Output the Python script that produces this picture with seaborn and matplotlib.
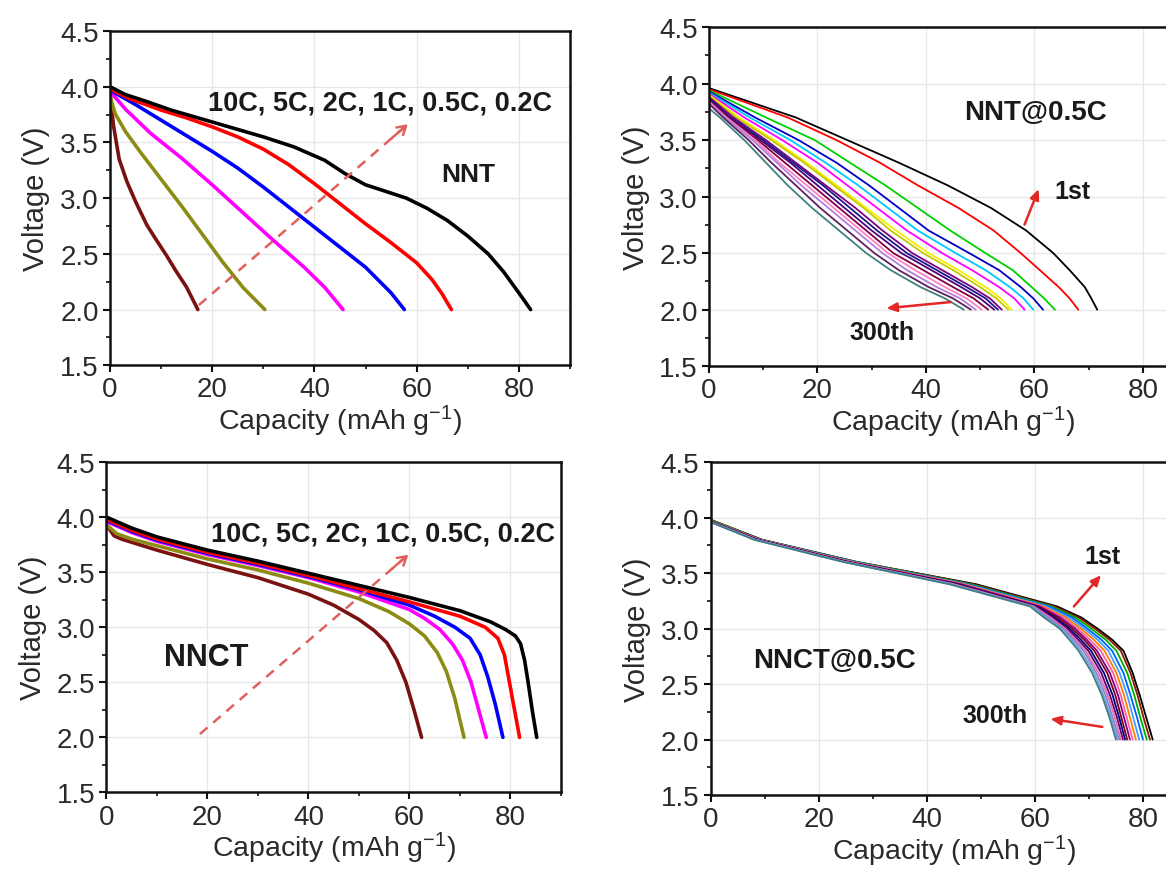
import matplotlib
matplotlib.use("Agg")
import matplotlib.pyplot as plt
from matplotlib.ticker import MultipleLocator, FormatStrFormatter
import pandas as pd
import seaborn as sns

# ---------------- rate-capability discharge curves ----------------
RATES = ["10C", "5C", "2C", "1C", "0.5C", "0.2C"]
RATE_COLORS = ["#7a1212", "#8c8c14", "#ff00ff", "#0000ff", "#ff0000", "#000000"]

NNT_CAP = [
    [0, 0.7, 1.8, 3.3, 5, 7.2, 9, 11, 13, 15, 17.2],
    [0, 1, 3, 6, 10, 14, 18, 22, 26, 30.3],
    [0, 3, 8, 14, 20, 26, 32, 38, 42, 45.6],
    [0, 5, 10, 15, 20, 25, 30, 35, 40, 45, 50, 55, 57.6],
    [0, 4, 10, 15, 20, 25, 30, 35, 40, 45, 50, 55, 60, 63, 65, 66.8],
    [0, 3, 7, 12, 18, 24, 30, 36, 42, 46, 50, 54, 58, 62, 66, 70, 74, 77, 80, 82.3],
]
NNT_V = [
    [3.95, 3.65, 3.35, 3.15, 2.97, 2.76, 2.63, 2.49, 2.34, 2.2, 2.0],
    [3.92, 3.76, 3.6, 3.41, 3.17, 2.93, 2.68, 2.43, 2.2, 2.0],
    [3.96, 3.8, 3.58, 3.36, 3.12, 2.87, 2.62, 2.38, 2.2, 2.0],
    [3.97, 3.84, 3.7, 3.56, 3.42, 3.27, 3.1, 2.92, 2.74, 2.56, 2.38, 2.15, 2.0],
    [3.98, 3.89, 3.79, 3.72, 3.64, 3.55, 3.44, 3.3, 3.13, 2.95, 2.77, 2.6, 2.42, 2.27, 2.14, 2.0],
    [4.0, 3.93, 3.87, 3.79, 3.71, 3.63, 3.55, 3.46, 3.34, 3.22, 3.12, 3.06, 3.0, 2.91, 2.8,
     2.66, 2.5, 2.34, 2.15, 2.0],
]

NNCT_CAP = [
    [0, 1.5, 3, 10, 20, 30, 40, 45, 50, 53, 55.5, 57.5, 59.3, 60.9, 62.4],
    [0, 2, 5, 10, 20, 30, 40, 50, 56, 60, 63, 65.5, 67.3, 69, 70.8],
    [0, 5, 10, 20, 30, 40, 50, 60, 63, 66, 68.5, 70.5, 72.2, 73.7, 75.2],
    [0, 5, 10, 20, 30, 40, 50, 60, 65, 69, 72, 74, 75.5, 77, 78.5],
    [0, 5, 10, 20, 30, 40, 50, 60, 70, 75, 77.5, 78.8, 79.8, 80.8, 81.8],
    [0, 5, 10, 20, 30, 40, 50, 60, 70, 76, 79, 81, 82, 82.8, 83.5, 84.3, 85.2],
]
NNCT_V = [
    [3.93, 3.83, 3.8, 3.7, 3.57, 3.45, 3.3, 3.2, 3.07, 2.97, 2.86, 2.7, 2.5, 2.25, 2.0],
    [3.93, 3.85, 3.8, 3.74, 3.62, 3.52, 3.4, 3.26, 3.14, 3.03, 2.92, 2.77, 2.6, 2.35, 2.0],
    [3.96, 3.86, 3.78, 3.66, 3.56, 3.45, 3.32, 3.16, 3.08, 2.98, 2.85, 2.7, 2.5, 2.25, 2.0],
    [3.97, 3.87, 3.79, 3.67, 3.57, 3.46, 3.34, 3.2, 3.1, 3.0, 2.9, 2.75, 2.55, 2.3, 2.0],
    [3.98, 3.88, 3.8, 3.68, 3.58, 3.47, 3.35, 3.23, 3.1, 3.0, 2.9, 2.75, 2.5, 2.25, 2.0],
    [4.0, 3.9, 3.82, 3.7, 3.6, 3.49, 3.38, 3.27, 3.15, 3.05, 2.98, 2.92, 2.85, 2.7, 2.5,
     2.25, 2.0],
]

# ---------------- cycling at 0.5C (1st ... 300th) ----------------
# capacity reached by each cycle when the voltage falls to the given level
NNT_CYC_LEVELS = [3.7, 3.5, 3.3, 3.1, 2.9, 2.7, 2.5, 2.35, 2.2, 2.1, 2.0]
NNT_CYC_START = [3.96, 3.95, 3.94, 3.93, 3.92, 3.91, 3.90, 3.89, 3.88, 3.87,
                 3.86, 3.85, 3.84, 3.83, 3.82, 3.78]
NNT_CYC_CAP = [
    [16, 25.5, 35, 44, 52, 58.5, 63.5, 66.5, 69.3, 70.5, 71.6],
    [14.5, 23.5, 31.5, 38.5, 46, 52.5, 57.5, 61, 64.5, 66.5, 68.1],
    [10.5, 19.5, 26, 32.5, 38.5, 44.5, 51, 56, 59.5, 61.8, 63.8],
    [8.5, 16.5, 23.5, 29.5, 35, 40.5, 48, 53.5, 57.5, 59.8, 61.6],
    [7.5, 15, 21.5, 27.5, 33, 38.5, 45.5, 51, 55.5, 58, 59.8],
    [6.5, 13.5, 20, 25.5, 31, 36.5, 43, 48.5, 53.5, 56.3, 58.2],
    [5.5, 12, 18, 23.5, 29, 34.5, 40.5, 46, 51, 53.8, 55.8],
    [5, 11.5, 17.5, 23, 28.5, 33.5, 39.5, 45, 50, 53, 55.2],
    [4.5, 10.5, 16, 21.5, 27, 32, 37.5, 43, 48.5, 51.8, 54.0],
    [4, 10, 15.5, 21, 26, 31, 36.5, 42, 47.5, 51, 53.3],
    [3.8, 9.5, 15, 20, 25, 30, 35.5, 41, 46.5, 50, 52.6],
    [3.5, 9, 14, 19, 24, 29, 34, 39.5, 45, 48.8, 51.5],
    [3.2, 8.5, 13, 18, 23, 28, 33, 38, 43.5, 47.5, 50.3],
    [3, 8, 12.5, 17, 22, 27, 32, 36.5, 42, 46.3, 49.2],
    [2.6, 7.3, 11.5, 16, 20.5, 25.5, 30.5, 35, 40.5, 45, 48.3],
    [2, 6.5, 10.5, 14.5, 19, 24, 29, 33.5, 39, 43.5, 47.0],
]
NNT_CYC_COLORS = ["#000000", "#ff0000", "#00d000", "#0000c0", "#00c8ff", "#ff00ff",
                  "#f0f000", "#c8c800", "#800080", "#1a1a80", "#4b0082", "#800040",
                  "#ff80c0", "#b080e0", "#602060", "#408080"]

NNCT_CYC_LEVELS = [3.8, 3.6, 3.4, 3.2, 3.1, 3.0, 2.9, 2.8, 2.6, 2.4, 2.2, 2.0]
NNCT_CYC_START = [3.98, 3.98, 3.98, 3.97, 3.97, 3.97, 3.97, 3.97, 3.96, 3.96,
                  3.96, 3.96, 3.96, 3.96, 3.96]
NNCT_CYC_CAP = [
    [9.5, 27, 49, 64, 68.5, 71.5, 74.2, 76.3, 78, 79.3, 80.5, 81.7],
    [9.5, 27, 48.5, 63.5, 68, 71, 73.7, 75.8, 77.6, 78.9, 80.0, 81.2],
    [9.3, 26.8, 48, 63, 67.4, 70.3, 73, 75, 77, 78.3, 79.4, 80.6],
    [9.2, 26.5, 47.5, 62.5, 66.8, 69.6, 72.2, 74.2, 76.3, 77.6, 78.8, 79.9],
    [9, 26.3, 47, 62, 66.2, 69, 71.5, 73.5, 75.6, 77, 78.1, 79.2],
    [9, 26, 46.8, 61.5, 65.6, 68.4, 70.8, 72.8, 75, 76.4, 77.5, 78.6],
    [8.9, 25.8, 46.5, 61.2, 65.1, 67.8, 70.1, 72.1, 74.4, 75.8, 76.9, 78.0],
    [8.8, 25.6, 46.2, 60.8, 64.6, 67.3, 69.5, 71.4, 73.8, 75.3, 76.4, 77.5],
    [8.7, 25.4, 45.8, 60.5, 64.1, 66.8, 69, 70.9, 73.3, 74.8, 75.9, 77.0],
    [8.6, 25.2, 45.5, 60.2, 63.6, 66.3, 68.4, 70.3, 72.7, 74.3, 75.5, 76.6],
    [8.5, 25, 45.2, 60, 63.2, 65.9, 67.9, 69.8, 72.2, 73.8, 75.1, 76.2],
    [8.4, 24.9, 44.9, 59.7, 62.8, 65.5, 67.5, 69.3, 71.7, 73.4, 74.7, 75.8],
    [8.3, 24.8, 44.6, 59.5, 62.4, 65.2, 67.1, 68.9, 71.3, 73, 74.3, 75.5],
    [8.2, 24.6, 44.3, 59.2, 62, 64.8, 66.7, 68.4, 70.9, 72.6, 74.0, 75.2],
    [8, 24.5, 44, 59, 61.6, 64.5, 66.3, 68, 70.5, 72.3, 73.7, 74.9],
]
NNCT_CYC_COLORS = ["#000000", "#8b1a00", "#00b000", "#0060ff", "#40a0ff", "#ff8000",
                   "#ff60a0", "#800080", "#800020", "#000080", "#660066", "#e070b0",
                   "#9080d0", "#70a0e0", "#408080"]

RATE_LABEL = "10C, 5C, 2C, 1C, 0.5C, 0.2C"


def rate_frame(caps, volts):
    rows = []
    for name, c, v in zip(RATES, caps, volts):
        for ci, vi in zip(c, v):
            rows.append((name, ci, vi))
    return pd.DataFrame(rows, columns=["curve", "cap", "V"])


def cycle_frame(levels, starts, caps):
    rows = []
    for i, (v0, c) in enumerate(zip(starts, caps)):
        name = f"cycle {i + 1}"
        rows.append((name, 0.0, v0))
        for ci, vi in zip(c, levels):
            rows.append((name, ci, vi))
    return pd.DataFrame(rows, columns=["curve", "cap", "V"])


sns.set_theme(style="ticks")
plt.rcParams["font.family"] = ["Liberation Sans", "DejaVu Sans"]
plt.rcParams["mathtext.fontset"] = "custom"
plt.rcParams["mathtext.rm"] = "Liberation Sans"
plt.rcParams["mathtext.it"] = "Liberation Sans:italic"
plt.rcParams["mathtext.bf"] = "Liberation Sans:bold"

fig = plt.figure(figsize=(11.66, 8.70), dpi=100)
fig.patch.set_facecolor("white")

ax_tl = fig.add_axes([0.0943, 0.5790, 0.3945, 0.3842])
ax_tr = fig.add_axes([0.6081, 0.5779, 0.4185, 0.3899])
ax_bl = fig.add_axes([0.0913, 0.0880, 0.3898, 0.3798])
ax_br = fig.add_axes([0.6094, 0.0850, 0.4177, 0.3828])

TXT = "#1a1a1a"


def style(ax):
    ax.set_xlim(0, 90)
    ax.set_ylim(1.5, 4.5)
    ax.xaxis.set_major_locator(MultipleLocator(20))
    ax.xaxis.set_minor_locator(MultipleLocator(10))
    ax.yaxis.set_major_locator(MultipleLocator(0.5))
    ax.yaxis.set_minor_locator(MultipleLocator(0.25))
    ax.yaxis.set_major_formatter(FormatStrFormatter("%.1f"))
    ax.tick_params(which="major", direction="out", length=5, width=1.5,
                   labelsize=20, pad=3, color="#111111", labelcolor="#2a2a2a",
                   top=False, right=False)
    ax.tick_params(which="minor", direction="out", length=3, width=1.2,
                   color="#111111", top=False, right=False)
    ax.grid(True, which="major", color="#e6e6e6", lw=0.9)
    ax.set_axisbelow(True)
    for s in ax.spines.values():
        s.set_linewidth(1.8)
        s.set_color("#111111")
    ax.set_xlabel("Capacity (mAh g$^{-1}$)", fontsize=20.5, color="#2a2a2a", labelpad=0.5)
    ax.set_ylabel("Voltage (V)", fontsize=21, color="#2a2a2a", labelpad=7)


def dashed_arrow(ax, start, tip):
    ax.plot([start[0], tip[0]], [start[1], tip[1]], ls=(0, (4, 3)),
            color="#e06060", lw=1.8, zorder=4)
    back = (start[0] + 0.9 * (tip[0] - start[0]), start[1] + 0.9 * (tip[1] - start[1]))
    ax.annotate("", xy=tip, xytext=back,
                arrowprops=dict(arrowstyle="->,head_length=0.5,head_width=0.3",
                                color="#e06060", lw=1.8), zorder=4)


def solid_arrow(ax, start, tip):
    ax.annotate("", xy=tip, xytext=start,
                arrowprops=dict(arrowstyle="-|>,head_length=0.5,head_width=0.22",
                                color="#e32626", lw=1.8), zorder=5)


# --- NNT rate ---
df = rate_frame(NNT_CAP, NNT_V)
sns.lineplot(data=df, x="cap", y="V", hue="curve", hue_order=RATES,
             palette=RATE_COLORS, sort=False, estimator=None, lw=2.6,
             legend=False, ax=ax_tl)
style(ax_tl)
dashed_arrow(ax_tl, (17.4, 2.04), (58.7, 3.68))
ax_tl.text(19.2, 3.86, RATE_LABEL, fontsize=19.5, fontweight="bold", color=TXT,
           ha="left", va="center")
ax_tl.text(70.2, 3.22, "NNT", fontsize=19, fontweight="bold", color=TXT,
           ha="center", va="center")

# --- NNCT rate ---
df = rate_frame(NNCT_CAP, NNCT_V)
sns.lineplot(data=df, x="cap", y="V", hue="curve", hue_order=RATES,
             palette=RATE_COLORS, sort=False, estimator=None, lw=2.6,
             legend=False, ax=ax_bl)
style(ax_bl)
dashed_arrow(ax_bl, (18.5, 2.03), (60.2, 3.675))
ax_bl.text(20.7, 3.855, RATE_LABEL, fontsize=19.5, fontweight="bold", color=TXT,
           ha="left", va="center")
ax_bl.text(19.7, 2.73, "NNCT", fontsize=22, fontweight="bold", color=TXT,
           ha="center", va="center")

# --- NNT cycling ---
df = cycle_frame(NNT_CYC_LEVELS, NNT_CYC_START, NNT_CYC_CAP)
names = [f"cycle {i + 1}" for i in range(len(NNT_CYC_CAP))]
sns.lineplot(data=df, x="cap", y="V", hue="curve", hue_order=names,
             palette=NNT_CYC_COLORS, sort=False, estimator=None, lw=1.3,
             legend=False, ax=ax_tr)
style(ax_tr)
ax_tr.text(60.3, 3.75, "NNT@0.5C", fontsize=20, fontweight="bold", color=TXT,
           ha="center", va="center")
ax_tr.text(67.1, 3.05, "1st", fontsize=18, fontweight="bold", color=TXT,
           ha="center", va="center")
ax_tr.text(31.9, 1.80, "300th", fontsize=18, fontweight="bold", color=TXT,
           ha="center", va="center")
solid_arrow(ax_tr, (58.0, 2.73), (61.0, 3.09))
solid_arrow(ax_tr, (45.1, 2.07), (32.2, 2.01))

# --- NNCT cycling ---
df = cycle_frame(NNCT_CYC_LEVELS, NNCT_CYC_START, NNCT_CYC_CAP)
names = [f"cycle {i + 1}" for i in range(len(NNCT_CYC_CAP))]
sns.lineplot(data=df, x="cap", y="V", hue="curve", hue_order=names,
             palette=NNCT_CYC_COLORS, sort=False, estimator=None, lw=1.3,
             legend=False, ax=ax_br)
style(ax_br)
ax_br.text(22.9, 2.72, "NNCT@0.5C", fontsize=20, fontweight="bold", color=TXT,
           ha="center", va="center")
ax_br.text(72.5, 3.65, "1st", fontsize=18, fontweight="bold", color=TXT,
           ha="center", va="center")
ax_br.text(52.5, 2.22, "300th", fontsize=18, fontweight="bold", color=TXT,
           ha="center", va="center")
solid_arrow(ax_br, (66.8, 3.18), (72.5, 3.50))
solid_arrow(ax_br, (72.9, 2.11), (62.3, 2.19))

fig.savefig("out.png", dpi=100, facecolor="white")
